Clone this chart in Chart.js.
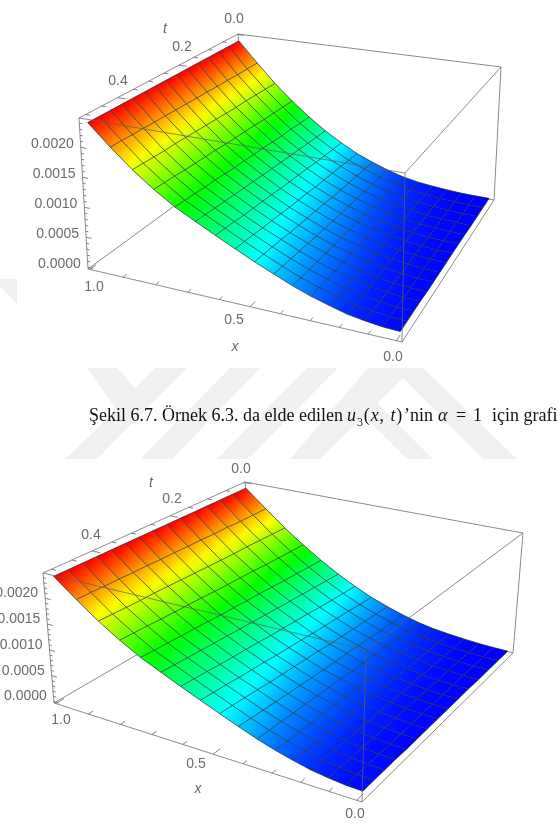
<!DOCTYPE html>
<html lang="tr">
<head>
<meta charset="utf-8">
<title>Şekil 6.7</title>
<script src="https://cdn.jsdelivr.net/npm/chart.js@4/dist/chart.umd.min.js"></script>
<style>
  html, body { margin: 0; background: #fff; }
  #page { position: relative; width: 558px; height: 830px; overflow: hidden; }
  #mark, #plots { position: absolute; left: 0; top: 0; }
  .cap { position: absolute; top: 405px; font: 18px/20px "Liberation Serif", serif; color: #111; white-space: nowrap; }
  .cap.math { letter-spacing: .9px; }
  .cap sub { font-size: 12px; line-height: 0; }
</style>
</head>
<body>
<div id="page">
  <!-- soluk filigran -->
  <svg id="mark" width="558" height="830" fill="#f1f1f1">
    <polygon points="0,279 17,279 17,304 0,286"/>
    <polygon points="87,368 117,368 135,388 155,368 187,368 97,459 65,459 117,410"/>
    <polygon points="230,368 260,368 172,459 140,459"/>
    <polygon points="307,368 338,368 248,459 217,459"/>
    <polygon points="368,368 423,368 517,459 483,459 403,378 320,459 290,459"/>
    <polygon points="363,415 377,403 433,459 407,459"/>
  </svg>
  <canvas id="plots" width="558" height="830"></canvas>
  <div class="cap" style="left:89px">Şekil 6.7. Örnek 6.3. da elde edilen</div>
  <div class="cap math" style="left:347px"><i>u</i><sub>3</sub>(<i>x</i>, <i>t</i>)</div>
  <div class="cap" style="left:404px">’nin</div>
  <div class="cap" style="left:438px"><i>α</i></div>
  <div class="cap" style="left:456px">=</div>
  <div class="cap" style="left:473px">1</div>
  <div class="cap" style="left:492px">için grafiği</div>
</div>

<script>
/* ── Grid of the solution surface ── */
const xGrid = [0, .0625, .125, .1875, .25, .3125, .375, .4375, .5, .5625, .625, .6875, .75, .8125, .875, .9375, 1];
const tGrid = [0, .036, .071, .107, .143, .179, .214, .25, .286, .321, .357, .393, .429, .464, .5];

// u3(x,t) in units of 1e-5: one row per t, one column per x
const U_UNIT = 1e-5;
const uRows = [
  [0, 0, 0.5, 2, 4, 7, 12, 20, 30, 42, 58, 77, 100, 127, 158, 195, 236],
  [0, 0, 1, 2, 5, 8, 14, 22, 32, 44, 60, 79, 101, 128, 159, 195, 236],
  [0, 0, 1, 3, 6, 10, 16, 24, 34, 47, 62, 81, 103, 129, 160, 195, 236],
  [0, 1, 2, 3, 7, 11, 17, 26, 36, 49, 64, 83, 104, 130, 161, 196, 236],
  [1, 1, 2, 4, 8, 12, 19, 28, 38, 51, 67, 85, 106, 132, 161, 196, 236],
  [1, 1, 2, 5, 8, 14, 20, 30, 40, 53, 69, 87, 108, 133, 162, 197, 236],
  [1, 1, 3, 5, 9, 15, 22, 31, 43, 56, 71, 89, 109, 134, 163, 197, 236],
  [1, 2, 3, 6, 10, 16, 24, 33, 45, 58, 73, 91, 111, 135, 164, 198, 236],
  [1, 2, 4, 6, 11, 17, 25, 35, 47, 60, 76, 93, 112, 137, 165, 198, 236],
  [1, 2, 4, 7, 12, 19, 27, 37, 49, 63, 78, 95, 114, 138, 166, 199, 236],
  [1, 2, 4, 7, 13, 20, 29, 39, 51, 65, 80, 97, 116, 139, 167, 199, 236],
  [2, 2, 5, 8, 14, 21, 30, 41, 54, 67, 82, 99, 117, 140, 167, 200, 236],
  [2, 3, 5, 9, 15, 23, 32, 43, 56, 70, 85, 101, 119, 142, 168, 200, 236],
  [2, 3, 6, 9, 16, 24, 33, 45, 58, 72, 87, 103, 120, 143, 169, 201, 236],
  [2, 3, 6, 10, 17, 25, 35, 47, 60, 74, 89, 105, 122, 144, 170, 201, 236],
];

/* ── Ticks ── */
const xTicks = [0, .5, 1];
const xMinorTicks = [.1, .2, .3, .4, .6, .7, .8, .9];
const tTicks = [0, .2, .4];
const tMinorTicks = [.05, .1, .15, .25, .3, .35, .45, .5];
const zTicks = [0, .0005, .001, .0015, .002];
const zMinorTicks = [.0001, .0002, .0003, .0004, .0006, .0007, .0008, .0009, .0011, .0012, .0013, .0014, .0016, .0017, .0018, .0019, .0021, .0022, .0023, .0024];

/* ── Plot box range ── */
const X_RANGE = [-.02, 1.005];
const T_RANGE = [-.003, .52];
const Z_RANGE = [-.00003, .00249];
const X_WARP = 1.1, T_WARP = .93;

// Screen position of the eight box corners and of the axis text, one set per view
const views = [
  {
    leftFrontBottom: [88, 269],  rightFrontBottom: [402, 342],
    leftBackBottom: [244, 155],  rightBackBottom: [494, 200],
    leftFrontTop: [79, 118],     rightFrontTop: [405, 173],
    leftBackTop: [238, 34],      rightBackTop: [501, 67],
    xLabelAt: [[393, 357], [234, 320], [94, 287]],
    tLabelAt: [[234, 19], [182, 47], [118, 81]],
    zShift: [-7, -3],
    xName: [235, 347], tName: [165, 29],
  },
  {
    leftFrontBottom: [54, 703],  rightFrontBottom: [362, 802],
    leftBackBottom: [255, 586],  rightBackBottom: [513, 653],
    leftFrontTop: [43, 573],     rightFrontTop: [366, 650],
    leftBackTop: [245, 482],     rightBackTop: [523, 533],
    xLabelAt: [[355, 814], [196, 764], [61, 720]],
    tLabelAt: [[241, 469], [172, 499], [91, 535]],
    zShift: [-7, -5],
    xName: [198, 789], tName: [151, 483],
  },
];

const uPeak = Math.max(...uRows.flat());

function hueColor(u) {
  const f = Math.min(1, Math.max(0, u / uPeak));
  return `hsl(${240 * (1 - f)},100%,50%)`;
}

/* Trilinear map of the box onto the screen, with a little foreshortening on x and t */
function project(view, x, t, z) {
  const u = (x - X_RANGE[0]) / (X_RANGE[1] - X_RANGE[0]);
  const v = (t - T_RANGE[0]) / (T_RANGE[1] - T_RANGE[0]);
  const a = u / (u + (1 - u) * X_WARP);
  const b = v * T_WARP / (1 - v + v * T_WARP);
  const c = (z - Z_RANGE[0]) / (Z_RANGE[1] - Z_RANGE[0]);
  const mix = i =>
    (1 - c) * ((1 - b) * (a * view.leftBackBottom[i] + (1 - a) * view.rightBackBottom[i])
             + b * (a * view.leftFrontBottom[i] + (1 - a) * view.rightFrontBottom[i]))
    + c * ((1 - b) * (a * view.leftBackTop[i] + (1 - a) * view.rightBackTop[i])
         + b * (a * view.leftFrontTop[i] + (1 - a) * view.rightFrontTop[i]));
  return { x: mix(0), y: mix(1) };
}

function lineSet(points, color, width, order) {
  return { data: points, showLine: true, borderColor: color, borderWidth: width, pointRadius: 0, fill: false, order, clip: false };
}

const canvas = document.getElementById('plots');
const ctx2d = canvas.getContext('2d');

/* One gradient-filled quad per mesh cell, shaded by height along x */
function cellSet(view, i, j) {
  const at = (ix, it) => project(view, xGrid[ix], tGrid[it], uRows[it][ix] * U_UNIT);
  const corners = [at(i, j), at(i + 1, j), at(i + 1, j + 1), at(i, j + 1)];
  const p0 = { x: (corners[0].x + corners[3].x) / 2, y: (corners[0].y + corners[3].y) / 2 };
  const p1 = { x: (corners[1].x + corners[2].x) / 2, y: (corners[1].y + corners[2].y) / 2 };
  const grad = ctx2d.createLinearGradient(p0.x, p0.y, p1.x, p1.y);
  const u0 = (uRows[j][i] + uRows[j + 1][i]) / 2;
  const u1 = (uRows[j][i + 1] + uRows[j + 1][i + 1]) / 2;
  [0, .25, .5, .75, 1].forEach(s => grad.addColorStop(s, hueColor(u0 + (u1 - u0) * s)));
  return { data: corners, showLine: true, borderWidth: 0, pointRadius: 0, fill: 'shape', backgroundColor: grad, order: 3, clip: false };
}

function viewDatasets(view) {
  const sets = [];
  const [x0, x1] = X_RANGE, [t0, t1] = T_RANGE, [z0, z1] = Z_RANGE;
  const P = (x, t, z) => project(view, x, t, z);
  const backEdge = '#8a8a8a', frontEdge = 'rgba(95,95,95,.72)';

  // box edges behind the surface
  [[[x1, t0, z0], [x1, t0, z1]], [[x1, t0, z0], [x0, t0, z0]], [[x1, t0, z0], [x1, t1, z0]],
   [[x1, t0, z1], [x0, t0, z1]], [[x0, t0, z0], [x0, t0, z1]]]
    .forEach(e => sets.push(lineSet([P(...e[0]), P(...e[1])], backEdge, 1, 4)));

  // surface
  for (let j = 0; j < tGrid.length - 1; j++)
    for (let i = 0; i < xGrid.length - 1; i++) sets.push(cellSet(view, i, j));

  // mesh lines
  const meshColor = 'rgba(25,45,50,.78)';
  tGrid.forEach((t, j) => sets.push(lineSet(xGrid.map((x, i) => P(x, t, uRows[j][i] * U_UNIT)), meshColor, .9, 2)));
  xGrid.forEach((x, i) => sets.push(lineSet(tGrid.map((t, j) => P(x, t, uRows[j][i] * U_UNIT)), meshColor, .9, 2)));

  // box edges in front of it
  [[[x1, t1, z0], [x0, t1, z0]], [[x0, t1, z0], [x0, t0, z0]], [[x1, t1, z0], [x1, t1, z1]],
   [[x1, t1, z1], [x1, t0, z1]], [[x1, t1, z1], [x0, t1, z1]], [[x0, t1, z1], [x0, t0, z1]],
   [[x0, t1, z0], [x0, t1, z1]]]
    .forEach(e => sets.push(lineSet([P(...e[0]), P(...e[1])], frontEdge, 1, 1)));

  // tick marks on the three labelled edges
  const tick = (a, b) => sets.push(lineSet([a, b], '#777', .9, 1));
  xTicks.forEach(x => tick(P(x, t1, z0), P(x, t1 - .02, z0)));
  xMinorTicks.forEach(x => tick(P(x, t1, z0), P(x, t1 - .012, z0)));
  tTicks.forEach(t => tick(P(x1, t, z1), P(x1 - .025, t, z1)));
  tMinorTicks.forEach(t => tick(P(x1, t, z1), P(x1 - .014, t, z1)));
  zTicks.forEach(z => tick(P(x1, t1, z), P(x1 - .016, t1, z)));
  zMinorTicks.forEach(z => tick(P(x1, t1, z), P(x1 - .008, t1, z)));
  return sets;
}

/* Tick numbers and axis names */
const axisText = {
  id: 'axisText',
  afterDraw(chart) {
    const c = chart.ctx;
    c.save();
    c.fillStyle = '#6b6b6b';
    c.textBaseline = 'middle';
    views.forEach(view => {
      c.font = '14px "Liberation Sans", sans-serif';
      c.textAlign = 'center';
      xTicks.forEach((x, i) => c.fillText(x.toFixed(1), ...view.xLabelAt[i]));
      tTicks.forEach((t, i) => c.fillText(t.toFixed(1), ...view.tLabelAt[i]));
      c.textAlign = 'right';
      zTicks.forEach(z => {
        const p = project(view, X_RANGE[1], T_RANGE[1], z);
        c.fillText(z.toFixed(4), p.x + view.zShift[0], p.y + view.zShift[1]);
      });
      c.textAlign = 'center';
      c.font = 'italic 14px "Liberation Sans", sans-serif';
      c.fillText('x', ...view.xName);
      c.fillText('t', ...view.tName);
    });
    c.restore();
  },
};

new Chart(canvas, {
  type: 'scatter',
  data: { datasets: views.flatMap(viewDatasets) },
  options: {
    responsive: false,
    animation: false,
    devicePixelRatio: 1,
    events: [],
    layout: { padding: 0 },
    elements: { line: { tension: 0 } },
    scales: {
      x: { type: 'linear', min: 0, max: 558, display: false },
      y: { type: 'linear', min: 0, max: 830, reverse: true, display: false },
    },
    plugins: { legend: { display: false }, tooltip: { enabled: false } },
  },
  plugins: [axisText],
});
</script>
</body>
</html>
